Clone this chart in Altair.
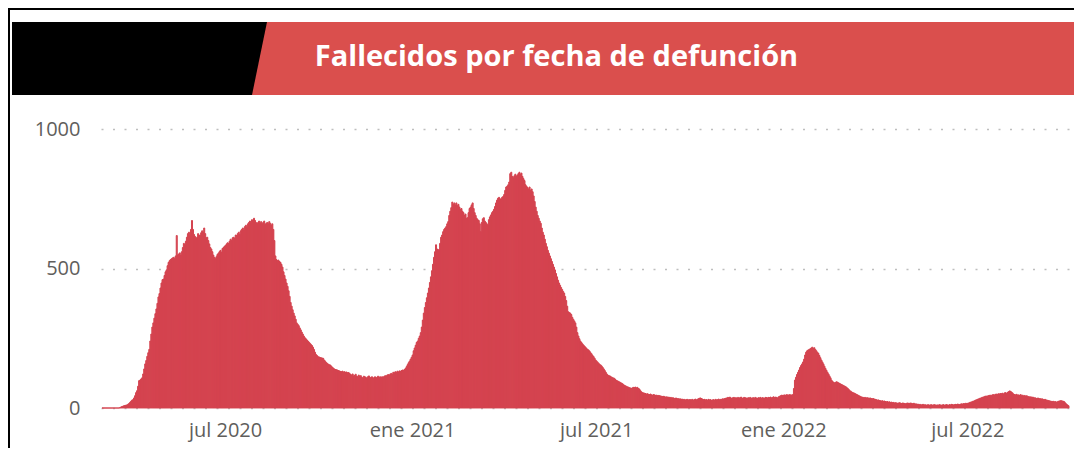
import altair as alt
import pandas as pd

TITLE = "Fallecidos por fecha de defunción"

# Daily deaths by date of death, one list per month
mar_2020 = [0, 0, 0, 0, 0, 0, 0, 0, 0, 0, 0, 0, 0, 0, 0, 0, 0, 1, 3, 5, 6, 8, 9, 10, 11, 13, 16, 20, 24, 28]  # from Mar 2
apr_2020 = [30, 36, 44, 55, 62, 78, 98, 100, 104, 108, 122, 140, 158, 170, 185, 198, 210, 240, 265, 290,
            305, 322, 338, 355, 375, 398, 410, 430, 448, 460]
may_2020 = [462, 475, 488, 495, 510, 522, 528, 532, 535, 538, 540, 535, 545, 618, 548, 552, 556, 548, 560, 575,
            590, 585, 598, 612, 625, 630, 618, 640, 672, 640, 622]
jun_2020 = [615, 608, 612, 625, 620, 618, 628, 635, 630, 645, 625, 610, 612, 600, 588, 575, 570, 560, 548, 540,
            535, 542, 550, 555, 560, 565, 558, 572, 575, 580]
jul_2020 = [582, 588, 592, 590, 598, 605, 600, 610, 612, 608, 620, 618, 625, 630, 622, 635, 640, 645, 638, 650,
            655, 648, 660, 665, 670, 662, 675, 668, 680, 672, 665]
aug_2020 = [660, 665, 670, 662, 668, 660, 665, 670, 658, 662, 665, 660, 668, 662, 655, 660, 640, 600, 545, 532,
            528, 530, 525, 522, 515, 505, 488, 475, 462, 448, 436]
sep_2020 = [420, 400, 378, 365, 352, 340, 330, 318, 305, 300, 295, 287, 280, 272, 265, 258, 252, 248, 244, 240,
            236, 232, 228, 224, 218, 210, 200, 192, 188, 184]
oct_2020 = [183, 181, 180, 179, 178, 172, 168, 163, 160, 157, 155, 154, 150, 146, 143, 140, 138, 137, 136, 134,
            133, 131, 130, 132, 129, 130, 128, 129, 126, 127, 124]
nov_2020 = [120, 118, 122, 115, 117, 121, 114, 112, 118, 113, 116, 110, 108, 114, 112, 110, 106, 112, 115, 108,
            110, 112, 106, 109, 112, 108, 110, 114, 109, 112]
dec_2020 = [110, 112, 111, 113, 116, 114, 118, 120, 117, 122, 124, 121, 128, 126, 130, 127, 132, 129, 133, 131,
            134, 136, 135, 138, 142, 148, 155, 162, 168, 175, 182]
jan_2021 = [190, 205, 215, 225, 235, 240, 250, 258, 270, 290, 315, 340, 360, 378, 395, 412, 430, 450, 470, 492,
            515, 540, 560, 585, 570, 568, 565, 590, 612, 620, 632]
feb_2021 = [640, 645, 650, 660, 668, 690, 705, 718, 738, 730, 735, 728, 735, 725, 730, 720, 712, 715, 705, 700,
            690, 695, 680, 682, 700, 715, 720, 728]
mar_2021 = [735, 715, 700, 690, 680, 675, 672, 660, 632, 665, 678, 682, 670, 665, 660, 655, 675, 685, 692, 700,
            705, 712, 722, 735, 745, 752, 755, 750, 748, 755, 758]
apr_2021 = [765, 780, 792, 795, 800, 810, 840, 845, 830, 825, 832, 838, 830, 835, 840, 845, 838, 842, 830, 822,
            815, 800, 795, 790, 785, 792, 780, 785, 775, 760]
may_2021 = [740, 720, 705, 690, 680, 670, 662, 645, 630, 620, 605, 590, 578, 565, 555, 545, 535, 525, 515, 505,
            495, 482, 470, 458, 448, 440, 432, 425, 418, 412, 400]
jun_2021 = [385, 365, 345, 342, 340, 335, 325, 318, 312, 305, 290, 270, 258, 248, 240, 235, 230, 226, 222, 218,
            214, 210, 208, 204, 198, 194, 188, 184, 178, 172]
jul_2021 = [168, 164, 160, 156, 154, 150, 145, 140, 134, 128, 122, 118, 116, 115, 112, 110, 108, 107, 104, 100,
            98, 96, 94, 92, 90, 88, 85, 82, 80, 78, 76]
aug_2021 = [75, 73, 72, 70, 72, 74, 73, 75, 72, 74, 70, 68, 62, 58, 55, 54, 53, 52, 50, 51,
            49, 48, 50, 47, 46, 48, 47, 45, 46, 44, 45]
sep_2021 = [44, 43, 42, 41, 42, 40, 39, 40, 38, 39, 37, 38, 36, 37, 35, 34, 36, 33, 34, 32,
            33, 31, 32, 30, 31, 29, 30, 31, 29, 30]
oct_2021 = [30, 29, 31, 28, 30, 32, 29, 31, 33, 35, 36, 34, 32, 30, 31, 29, 30, 28, 31, 29,
            30, 27, 29, 30, 28, 31, 29, 30, 32, 29, 31]
nov_2021 = [31, 33, 32, 34, 35, 36, 38, 37, 39, 36, 35, 37, 38, 36, 37, 35, 38, 36, 37, 39,
            35, 36, 38, 37, 36, 34, 37, 36, 38, 35]
dec_2021 = [36, 37, 35, 38, 36, 34, 37, 36, 38, 35, 37, 36, 35, 38, 37, 36, 38, 37, 39, 36,
            38, 40, 37, 39, 38, 36, 40, 42, 44, 46, 45]
jan_2022 = [46, 47, 45, 48, 46, 47, 48, 46, 47, 48, 70, 100, 110, 120, 128, 136, 145, 152, 158, 165,
            175, 190, 200, 205, 208, 210, 212, 215, 218, 214, 216]
feb_2022 = [210, 205, 200, 196, 188, 180, 172, 165, 158, 150, 142, 135, 128, 122, 115, 108, 100, 95, 92, 90,
            92, 94, 92, 90, 88, 86, 84, 82]
mar_2022 = [80, 78, 76, 73, 70, 66, 62, 60, 57, 55, 54, 52, 50, 48, 46, 44, 42, 40, 39, 38,
            37, 38, 36, 37, 36, 35, 36, 34, 33, 34, 32]
apr_2022 = [31, 30, 28, 29, 27, 26, 25, 26, 24, 25, 23, 22, 23, 21, 22, 20, 21, 19, 20, 18,
            19, 18, 17, 18, 19, 17, 16, 18, 17, 16]
may_2022 = [15, 17, 18, 16, 17, 18, 15, 16, 17, 14, 15, 13, 14, 12, 13, 11, 12, 13, 11, 12,
            10, 11, 12, 10, 11, 12, 10, 11, 12, 11, 10]
jun_2022 = [11, 10, 12, 11, 10, 11, 12, 10, 11, 12, 11, 10, 12, 11, 13, 12, 11, 12, 13, 12,
            14, 13, 12, 14, 15, 14, 16, 15, 17, 16]
jul_2022 = [17, 18, 20, 21, 22, 24, 25, 27, 29, 30, 32, 33, 35, 36, 38, 39, 40, 42, 43, 42,
            44, 45, 46, 44, 47, 48, 46, 49, 50, 48, 51]
aug_2022 = [50, 52, 51, 53, 50, 54, 55, 52, 56, 58, 61, 60, 57, 54, 50, 48, 47, 49, 46, 47,
            45, 48, 44, 46, 43, 45, 42, 44, 40, 41, 39]
sep_2022 = [40, 38, 39, 36, 37, 35, 34, 36, 33, 34, 32, 33, 31, 30, 31, 29, 28, 27, 26, 25,
            24, 23, 24, 22, 23, 21, 22, 24, 25, 26]
oct_2022 = [26, 25, 24, 22, 18, 14, 11, 8]

segments = [
    ("2020-03-02", mar_2020), ("2020-04-01", apr_2020), ("2020-05-01", may_2020), ("2020-06-01", jun_2020),
    ("2020-07-01", jul_2020), ("2020-08-01", aug_2020), ("2020-09-01", sep_2020), ("2020-10-01", oct_2020),
    ("2020-11-01", nov_2020), ("2020-12-01", dec_2020), ("2021-01-01", jan_2021), ("2021-02-01", feb_2021),
    ("2021-03-01", mar_2021), ("2021-04-01", apr_2021), ("2021-05-01", may_2021), ("2021-06-01", jun_2021),
    ("2021-07-01", jul_2021), ("2021-08-01", aug_2021), ("2021-09-01", sep_2021), ("2021-10-01", oct_2021),
    ("2021-11-01", nov_2021), ("2021-12-01", dec_2021), ("2022-01-01", jan_2022), ("2022-02-01", feb_2022),
    ("2022-03-01", mar_2022), ("2022-04-01", apr_2022), ("2022-05-01", may_2022), ("2022-06-01", jun_2022),
    ("2022-07-01", jul_2022), ("2022-08-01", aug_2022), ("2022-09-01", sep_2022), ("2022-10-01", oct_2022),
]

rows = []
for start, vals in segments:
    for i, v in enumerate(vals):
        d = pd.Timestamp(start) + pd.Timedelta(days=i)
        rows.append({
            "inicio": d.strftime("%Y-%m-%d"),
            "fin": (d + pd.Timedelta(days=1)).strftime("%Y-%m-%d"),
            "fallecidos": v,
        })
df = pd.DataFrame(rows)

BAR = "#D4434F"
BANNER = "#DA4F4D"
GRAY = "#605E5C"
FONT = "Open Sans"

tick_dates = [
    alt.DateTime(year=2020, month=7, date=1, utc=True),
    alt.DateTime(year=2021, month=1, date=1, utc=True),
    alt.DateTime(year=2021, month=7, date=1, utc=True),
    alt.DateTime(year=2022, month=1, date=1, utc=True),
    alt.DateTime(year=2022, month=7, date=1, utc=True),
]

x_enc = alt.X(
    "inicio:T",
    scale=alt.Scale(
        type="utc",
        domain=[alt.DateTime(year=2020, month=3, date=1, utc=True),
                alt.DateTime(year=2022, month=10, date=9, utc=True)],
    ),
    axis=alt.Axis(
        values=tick_dates,
        labelExpr="(utcFormat(datum.value, '%m') == '07' ? 'jul ' : 'ene ') + utcFormat(datum.value, '%Y')",
        domain=False, ticks=False, grid=False,
        labelFont=FONT, labelFontSize=20, labelColor=GRAY, labelPadding=12,
        labelFlush=False, labelOverlap=False, title=None,
    ),
)
y_enc = alt.Y(
    "fallecidos:Q",
    scale=alt.Scale(domain=[0, 1000], nice=False),
    axis=alt.Axis(
        values=[0, 500, 1000], format="d", domain=False, ticks=False,
        grid=True, gridDash=[2, 9.5], gridColor="#BEBEBE", gridWidth=1.5,
        labelFont=FONT, labelFontSize=20, labelColor=GRAY, labelPadding=21, title=None,
    ),
)

bars = alt.Chart(df).mark_rect(color=BAR, stroke=BAR, strokeWidth=1).encode(
    x=x_enc, x2="fin:T", y=y_enc, y2=alt.datum(0)
)

header = pd.DataFrame({"titulo": [TITLE]})
base = alt.Chart(header)

banner = base.mark_rect(color=BANNER).encode(
    x=alt.value(-89), x2=alt.value(973), y=alt.value(-107), y2=alt.value(-34)
)
black_tab = base.mark_point(
    shape="M-1,-0.2863L1,-0.2863L0.8824,0.2863L-1,0.2863Z",
    size=65025, filled=True, color="black", opacity=1, strokeWidth=0,
).encode(x=alt.value(38.5), y=alt.value(-70.5))
title_text = base.mark_text(
    font=FONT, fontSize=29, fontWeight="bold", color="white", align="center", baseline="alphabetic"
).encode(x=alt.value(455.5), y=alt.value(-63), text="titulo:N")
frame_top = base.mark_rule(color="black", strokeWidth=2).encode(
    x=alt.value(-93), x2=alt.value(973), y=alt.value(-120)
)
frame_left = base.mark_rule(color="black", strokeWidth=2).encode(
    x=alt.value(-92), y=alt.value(-121), y2=alt.value(330)
)

chart = alt.layer(bars, banner, black_tab, title_text, frame_top, frame_left).properties(
    width=968, height=279,
    autosize=alt.AutoSizeParams(type="none"),
    padding={"left": 93, "top": 121, "right": 5, "bottom": 40},
    background="white",
).configure_view(stroke=None)

chart.save("out.html", embed_options={"renderer": "svg", "actions": False})
